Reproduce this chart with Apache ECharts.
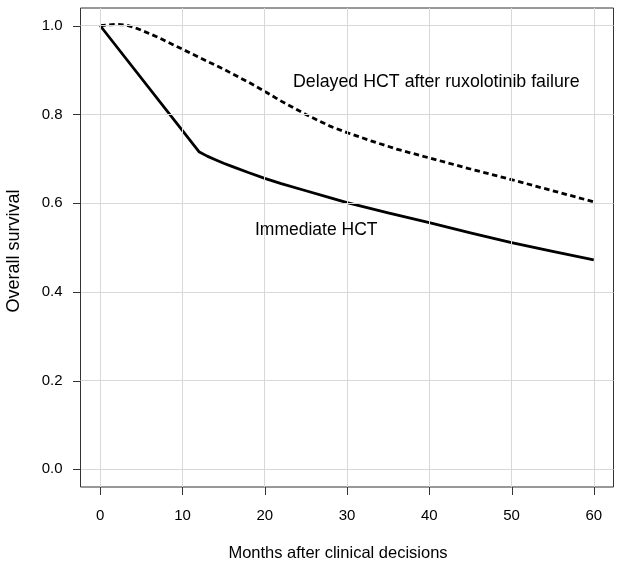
<!DOCTYPE html>
<html>
<head>
<meta charset="utf-8">
<script src="https://cdn.jsdelivr.net/npm/echarts@6/dist/echarts.min.js"></script>
<style>html,body{margin:0;padding:0;background:#fff}#c{width:624px;height:570px}</style>
</head>
<body>
<div id="c"></div>
<script>
// Data
const xTicks = [0, 10, 20, 30, 40, 50, 60];
const yTicks = [0, 0.2, 0.4, 0.6, 0.8, 1.0];
const immediateMonths = [0, 12, 13, 14, 15, 16, 18, 20, 22, 25, 28, 30, 35, 40, 45, 50, 55, 60];
const immediateOS = [1.0, 0.716, 0.706, 0.698, 0.690, 0.683, 0.669, 0.656, 0.644, 0.628, 0.612, 0.601, 0.578, 0.556, 0.533, 0.511, 0.491, 0.472];
const delayedMonths = [0, 1, 2, 3, 4, 5, 6, 7, 8, 10, 12, 15, 18, 20, 22, 25, 28, 30, 33, 36, 40, 45, 50, 55, 60];
const delayedOS = [1.0, 1.002, 1.003, 1.002, 0.997, 0.99, 0.982, 0.974, 0.965, 0.947, 0.929, 0.902, 0.873, 0.852, 0.830, 0.800, 0.773, 0.759, 0.740, 0.722, 0.702, 0.677, 0.653, 0.628, 0.603];
const labelImmediate = 'Immediate HCT';
const labelDelayed = 'Delayed HCT after ruxolotinib failure';
const xTitle = 'Months after clinical decisions';
const yTitle = 'Overall survival';

const FONT = '"Liberation Sans", Arial, Helvetica, sans-serif';
const zip = (a, b) => a.map((v, i) => [v, b[i]]);

// Outer frame (R-style 4% padding) and inner label grid spanning exactly 0..60 / 0..1
const G = {left: 80.5, right: 10.5, top: 8, bottom: 83};
const xPad = 2.4, yPad = 0.04;
const W = 624 - G.left - G.right, H = 570 - G.top - G.bottom;
const ix0 = G.left + xPad / (60 + 2 * xPad) * W;
const ix1 = G.left + (60 + xPad) / (60 + 2 * xPad) * W;
const iy1 = G.top + yPad / (1 + 2 * yPad) * H;
const iy0 = G.top + (1 + yPad) / (1 + 2 * yPad) * H;
const TICK = 8;

const chart = echarts.init(document.getElementById('c'), null, {renderer: 'canvas'});
chart.setOption({
  animation: false,
  backgroundColor: '#fff',
  grid: [
    {left: G.left, right: G.right, top: G.top, bottom: G.bottom, show: true, borderColor: '#333', borderWidth: 1, backgroundColor: 'transparent'},
    {left: ix0, right: 624 - ix1, top: iy1, bottom: 570 - iy0, show: false}
  ],
  xAxis: [
    {gridIndex: 0, type: 'value', min: -xPad, max: 60 + xPad,
      axisLine: {show: false}, axisTick: {show: false}, axisLabel: {show: false}, splitLine: {show: false}},
    {gridIndex: 1, type: 'value', min: 0, max: 60, interval: 10, offset: (G.top + H) - iy0,
      axisLine: {show: false}, axisTick: {show: false},
      axisLabel: {show: true, margin: 21, color: '#000', fontSize: 15, fontFamily: FONT},
      splitLine: {show: false}}
  ],
  yAxis: [
    {gridIndex: 0, type: 'value', min: -yPad, max: 1 + yPad,
      axisLine: {show: false}, axisTick: {show: false}, axisLabel: {show: false}, splitLine: {show: false}},
    {gridIndex: 1, type: 'value', min: 0, max: 1, interval: 0.2, offset: ix0 - G.left,
      axisLine: {show: false}, axisTick: {show: false},
      axisLabel: {show: true, margin: 18, color: '#000', fontSize: 15, fontFamily: FONT, formatter: v => v.toFixed(1)},
      splitLine: {show: false}}
  ],
  series: [
    {
      type: 'line', data: [], z: 1, silent: true, xAxisIndex: 0, yAxisIndex: 0,
      markLine: {
        silent: true, symbol: 'none', animation: false,
        label: {show: false},
        lineStyle: {color: '#d8d8d8', width: 1, type: 'solid'},
        data: xTicks.map(v => ({xAxis: v})).concat(yTicks.map(v => ({yAxis: v})))
      }
    },
    {
      // x-axis tick marks, positioned through the axis scale
      type: 'custom', xAxisIndex: 0, yAxisIndex: 0, clip: false, silent: true, z: 5,
      data: xTicks.map(v => [v, 0]),
      encode: {x: 0, y: 1},
      renderItem: (params, api) => {
        const p = api.coord([api.value(0), -yPad]);
        const x = Math.round(p[0]) + 0.5, y = Math.round(p[1]);
        return {type: 'line', shape: {x1: x, y1: y, x2: x, y2: y + TICK}, style: {stroke: '#333', lineWidth: 1}};
      }
    },
    {
      // y-axis tick marks
      type: 'custom', xAxisIndex: 0, yAxisIndex: 0, clip: false, silent: true, z: 5,
      data: yTicks.map(v => [0, v]),
      encode: {x: 0, y: 1},
      renderItem: (params, api) => {
        const p = api.coord([-xPad, api.value(1)]);
        const x = Math.round(p[0]), y = Math.round(p[1]) + 0.5;
        return {type: 'line', shape: {x1: x, y1: y, x2: x - TICK, y2: y}, style: {stroke: '#333', lineWidth: 1}};
      }
    },
    {
      name: labelDelayed, type: 'line', data: zip(delayedMonths, delayedOS), smooth: false,
      xAxisIndex: 0, yAxisIndex: 0, showSymbol: false, z: 3,
      lineStyle: {color: '#000', width: 2.8, type: [5.5, 3.5], join: 'round'}
    },
    {
      name: labelImmediate, type: 'line', data: zip(immediateMonths, immediateOS), smooth: false,
      xAxisIndex: 0, yAxisIndex: 0, showSymbol: false, z: 3,
      lineStyle: {color: '#000', width: 2.8, join: 'round'}
    }
  ],
  graphic: [
    {type: 'text', x: 293, y: 82, z: 10, style: {text: labelDelayed, fill: '#000', font: '17.8px ' + FONT, verticalAlign: 'middle'}},
    {type: 'text', x: 255, y: 230, z: 10, style: {text: labelImmediate, fill: '#000', font: '17.5px ' + FONT, verticalAlign: 'middle'}},
    {type: 'text', x: 338, y: 553, z: 10, style: {text: xTitle, fill: '#000', font: '16.5px ' + FONT, align: 'center', verticalAlign: 'middle'}},
    {type: 'text', x: 14, y: 251, rotation: Math.PI / 2, z: 10, style: {text: yTitle, fill: '#000', font: '18px ' + FONT, align: 'center', verticalAlign: 'middle'}}
  ]
});
</script>
</body>
</html>
